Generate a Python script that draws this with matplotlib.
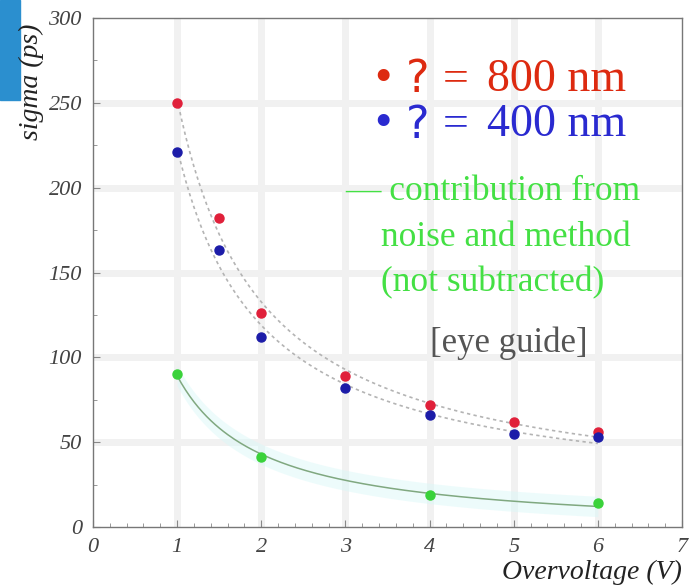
import numpy as np
import matplotlib
matplotlib.use("Agg")
import matplotlib.pyplot as plt
from matplotlib.patches import Rectangle
from matplotlib.ticker import MultipleLocator

# overvoltage (V) and time resolution sigma (ps)
ov_red = [1, 1.5, 2, 3, 4, 5, 6]
sigma_red = [250, 182, 126, 89, 72, 62, 56]      # 800 nm
ov_blue = [1, 1.5, 2, 3, 4, 5, 6]
sigma_blue = [221, 163, 112, 82, 66, 55, 53]     # 400 nm
ov_green = [1, 2, 4, 6]
sigma_green = [90, 41, 19, 14]                   # noise + method

x_ticks = [0, 1, 2, 3, 4, 5, 6, 7]
y_ticks = [0, 50, 100, 150, 200, 250, 300]

serif = "Liberation Serif"
W, H = 696, 587


def px(x, y):
    # pixel position -> figure fraction
    return x / W, 1 - y / H


fig = plt.figure(figsize=(W / 100, H / 100), dpi=100)
ax = fig.add_axes([0.1336, 0.1022, 0.8464, 0.8671])

ax.set_xlim(0, 7)
ax.set_ylim(0, 300)

# wide light grid like the original
for xv in x_ticks[1:-1]:
    ax.axvline(xv, color="#f1f1f1", lw=5, zorder=0)
for yv in y_ticks[1:-1]:
    ax.axhline(yv, color="#f1f1f1", lw=5, zorder=0)


def eye_guide(xs, ys):
    # a + b/x fit, only used as a guide for the eye
    p = np.polyfit(1.0 / np.array(xs, dtype=float), ys, 1)
    xx = np.linspace(min(xs), max(xs), 200)
    return xx, np.polyval(p, 1.0 / xx)


xx, yy = eye_guide(ov_red, sigma_red)
ax.plot(xx, yy, color="#b4b4b4", lw=1.2, ls=(0, (2, 2)), zorder=2)
xx, yy = eye_guide(ov_blue, sigma_blue)
ax.plot(xx, yy, color="#b4b4b4", lw=1.2, ls=(0, (2, 2)), zorder=2)
xx, yy = eye_guide(ov_green, sigma_green)
ax.fill_between(xx, yy - 6, yy + 6, color="#d8f8f8", alpha=0.45, lw=0, zorder=1)
ax.plot(xx, yy, color="#80a880", lw=1.1, zorder=2)

ax.plot(ov_red, sigma_red, "o", color="#e0203a", ms=6.5, zorder=4)
ax.plot(ov_blue, sigma_blue, "o", color="#1c1ca8", ms=6.5, zorder=5)
ax.plot(ov_green, sigma_green, "o", color="#3ad23a", ms=6.5, zorder=4)

ax.set_xticks(x_ticks)
ax.set_yticks(y_ticks)
ax.xaxis.set_minor_locator(MultipleLocator(0.2))
ax.yaxis.set_minor_locator(MultipleLocator(25))
ax.tick_params(which="both", direction="in", color="#888888", top=False, right=False)
ax.tick_params(which="major", length=5, pad=8)
ax.tick_params(which="minor", length=3)
for lab in ax.get_xticklabels() + ax.get_yticklabels():
    lab.set_fontfamily(serif)
    lab.set_fontstyle("italic")
    lab.set_fontsize(16)
    lab.set_color("#444444")
for sp in ax.spines.values():
    sp.set_color("#777777")
    sp.set_linewidth(1)

# wavelength labels: bullet + sans "?" + serif value
legend_rows = [("800 nm", "#dd2a10", 80), ("400 nm", "#2a2ad0", 125)]
for value, col, ypix in legend_rows:
    fig.text(*px(374, ypix), "\u2022", ha="left", va="center", fontsize=36, color=col, family=serif)
    fig.text(*px(406, ypix), "?", ha="left", va="center", fontsize=32, color=col, family="DejaVu Sans")
    fig.text(*px(443, ypix), "=", ha="left", va="center", fontsize=33, color=col, family=serif)
    fig.text(*px(626, ypix), value, ha="right", va="center", fontsize=33, color=col, family=serif)

fig.text(*px(345, 192), "\u2014 contribution from", ha="left", va="center",
         fontsize=25.5, color="#44e044", family=serif)
fig.text(*px(381, 238), "noise and method", ha="left", va="center",
         fontsize=25.5, color="#44e044", family=serif)
fig.text(*px(381, 283), "(not subtracted)", ha="left", va="center",
         fontsize=25.5, color="#44e044", family=serif)
fig.text(*px(430, 343), "[eye guide]", ha="left", va="center",
         fontsize=25, color="#555555", family=serif)

fig.text(*px(31, 82), "sigma (ps)", rotation=90, ha="center", va="center",
         fontsize=20, style="italic", color="#222222", family=serif)
fig.text(*px(682, 572), "Overvoltage (V)", ha="right", va="center",
         fontsize=20, style="italic", color="#222222", family=serif)

# blue tab in the top-left corner
fig.patches.append(Rectangle(px(0, 100), 20 / W, 100 / H, transform=fig.transFigure,
                             color="#2b8fcf", zorder=0))

fig.savefig("out.png", dpi=100)
